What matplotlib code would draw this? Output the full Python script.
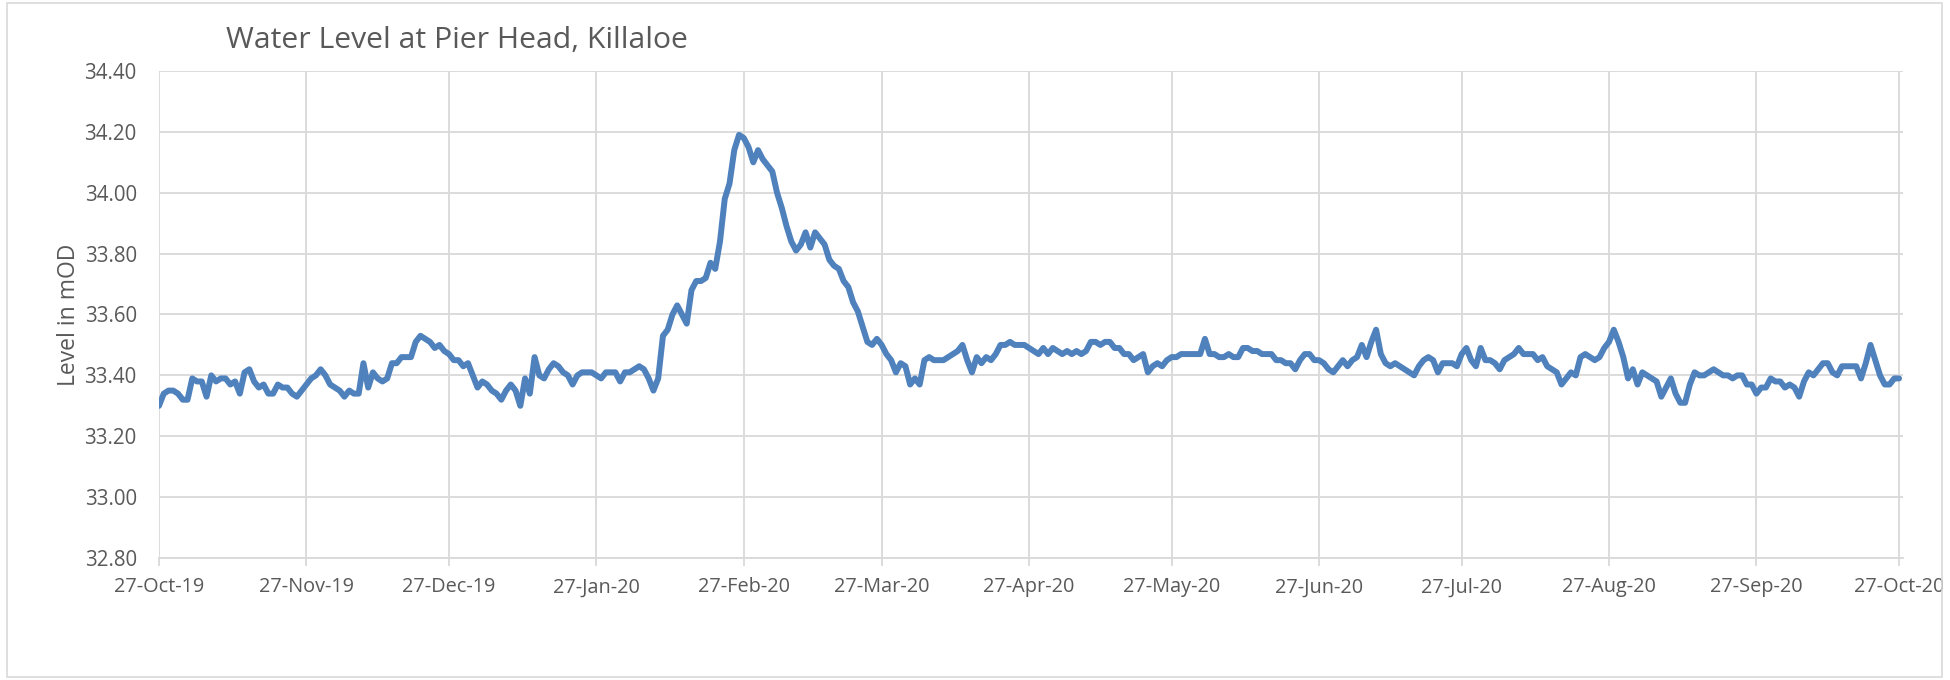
import matplotlib
matplotlib.use('Agg')
import matplotlib.pyplot as plt
import matplotlib.dates as mdates
from matplotlib.ticker import FormatStrFormatter
from matplotlib.patches import Rectangle
import pandas as pd

plt.rcParams['font.family'] = ['Open Sans', 'DejaVu Sans']

title = 'Water Level at Pier Head, Killaloe'
y_label = 'Level in mOD'
start_date = '2019-10-27'

levels = [
    33.30, 33.34, 33.35, 33.35, 33.34, 33.32, 33.32, 33.39, 33.38, 33.38,
    33.33, 33.40, 33.38, 33.39, 33.39, 33.37, 33.38, 33.34, 33.41, 33.42,
    33.38, 33.36, 33.37, 33.34, 33.34, 33.37, 33.36, 33.36, 33.34, 33.33,
    33.35, 33.37, 33.39, 33.40, 33.42, 33.40, 33.37, 33.36, 33.35, 33.33,
    33.35, 33.34, 33.34, 33.44, 33.36, 33.41, 33.39, 33.38, 33.39, 33.44,
    33.44, 33.46, 33.46, 33.46, 33.51, 33.53, 33.52, 33.51, 33.49, 33.50,
    33.48, 33.47, 33.45, 33.45, 33.43, 33.44, 33.40, 33.36, 33.38, 33.37,
    33.35, 33.34, 33.32, 33.35, 33.37, 33.35, 33.30, 33.39, 33.34, 33.46,
    33.40, 33.39, 33.42, 33.44, 33.43, 33.41, 33.40, 33.37, 33.40, 33.41,
    33.41, 33.41, 33.40, 33.39, 33.41, 33.41, 33.41, 33.38, 33.41, 33.41,
    33.42, 33.43, 33.42, 33.39, 33.35, 33.39, 33.53, 33.55, 33.60, 33.63,
    33.60, 33.57, 33.68, 33.71, 33.71, 33.72, 33.77, 33.75, 33.84, 33.98,
    34.03, 34.14, 34.19, 34.18, 34.15, 34.10, 34.14, 34.11, 34.09, 34.07,
    34.00, 33.95, 33.89, 33.84, 33.81, 33.83, 33.87, 33.82, 33.87, 33.85,
    33.83, 33.78, 33.76, 33.75, 33.71, 33.69, 33.64, 33.61, 33.56, 33.51,
    33.50, 33.52, 33.50, 33.47, 33.45, 33.41, 33.44, 33.43, 33.37, 33.39,
    33.37, 33.45, 33.46, 33.45, 33.45, 33.45, 33.46, 33.47, 33.48, 33.50,
    33.45, 33.41, 33.46, 33.44, 33.46, 33.45, 33.47, 33.50, 33.50, 33.51,
    33.50, 33.50, 33.50, 33.49, 33.48, 33.47, 33.49, 33.47, 33.49, 33.48,
    33.47, 33.48, 33.47, 33.48, 33.47, 33.48, 33.51, 33.51, 33.50, 33.51,
    33.51, 33.49, 33.49, 33.47, 33.47, 33.45, 33.46, 33.47, 33.41, 33.43,
    33.44, 33.43, 33.45, 33.46, 33.46, 33.47, 33.47, 33.47, 33.47, 33.47,
    33.52, 33.47, 33.47, 33.46, 33.46, 33.47, 33.46, 33.46, 33.49, 33.49,
    33.48, 33.48, 33.47, 33.47, 33.47, 33.45, 33.45, 33.44, 33.44, 33.42,
    33.45, 33.47, 33.47, 33.45, 33.45, 33.44, 33.42, 33.41, 33.43, 33.45,
    33.43, 33.45, 33.46, 33.50, 33.46, 33.51, 33.55, 33.47, 33.44, 33.43,
    33.44, 33.43, 33.42, 33.41, 33.40, 33.43, 33.45, 33.46, 33.45, 33.41,
    33.44, 33.44, 33.44, 33.43, 33.47, 33.49, 33.45, 33.43, 33.49, 33.45,
    33.45, 33.44, 33.42, 33.45, 33.46, 33.47, 33.49, 33.47, 33.47, 33.47,
    33.45, 33.46, 33.43, 33.42, 33.41, 33.37, 33.39, 33.41, 33.40, 33.46,
    33.47, 33.46, 33.45, 33.46, 33.49, 33.51, 33.55, 33.51, 33.46, 33.39,
    33.42, 33.37, 33.41, 33.40, 33.39, 33.38, 33.33, 33.36, 33.39, 33.34,
    33.31, 33.31, 33.37, 33.41, 33.40, 33.40, 33.41, 33.42, 33.41, 33.40,
    33.40, 33.39, 33.40, 33.40, 33.37, 33.37, 33.34, 33.36, 33.36, 33.39,
    33.38, 33.38, 33.36, 33.37, 33.36, 33.33, 33.38, 33.41, 33.40, 33.42,
    33.44, 33.44, 33.41, 33.40, 33.43, 33.43, 33.43, 33.43, 33.39, 33.44,
    33.50, 33.45, 33.40, 33.37, 33.37, 33.39, 33.39,
]

tick_dates = [
    '2019-10-27', '2019-11-27', '2019-12-27', '2020-01-27', '2020-02-27',
    '2020-03-27', '2020-04-27', '2020-05-27', '2020-06-27', '2020-07-27',
    '2020-08-27', '2020-09-27', '2020-10-27',
]
y_ticks = [32.80, 33.00, 33.20, 33.40, 33.60, 33.80, 34.00, 34.20, 34.40]

W, H = 1950, 680
dates = pd.date_range(start_date, periods=len(levels), freq='D')

fig = plt.figure(figsize=(W / 100, H / 100), dpi=100)
fig.patch.set_facecolor('white')
ax = fig.add_axes([159 / W, 1 - 558 / H, 1744 / W, 487 / H])

ax.plot(dates, levels, color='#4F81BD', lw=4.3,
        solid_joinstyle='round', solid_capstyle='round', zorder=3)

ax.set_ylim(y_ticks[0], y_ticks[-1])
ax.set_yticks(y_ticks)
ax.yaxis.set_major_formatter(FormatStrFormatter('%.2f'))

ax.set_xticks(pd.to_datetime(tick_dates))
ax.xaxis.set_major_formatter(mdates.DateFormatter('%d-%b-%y'))
ax.set_xlim(pd.Timestamp(start_date), pd.Timestamp(tick_dates[-1]) + pd.Timedelta(hours=20))

grid_c = '#d9d9d9'
ax.grid(True, color=grid_c, lw=1.3)
ax.set_axisbelow(True)
for s in ['top', 'right', 'left']:
    ax.spines[s].set_visible(False)
ax.spines['bottom'].set_color(grid_c)
ax.spines['bottom'].set_linewidth(1.3)

txt_c = '#595959'
ax.tick_params(axis='x', length=6, width=1.3, color=grid_c, pad=8,
               labelsize=14.3, labelcolor=txt_c)
ax.tick_params(axis='y', length=0, pad=16, labelsize=14.8, labelcolor=txt_c)

fig.text(69 / W, 1 - 315 / H, y_label, rotation=90, ha='center', va='center',
         fontsize=16.5, color=txt_c)
fig.text(226 / W, 1 - 41 / H, title, ha='left', va='center',
         fontsize=21.7, color=txt_c)

# clip beyond chart border and draw border
fig.add_artist(Rectangle((1943 / W, 0), 7 / W, 1, transform=fig.transFigure,
                         facecolor='white', edgecolor='none', zorder=10))
fig.add_artist(Rectangle((7 / W, 3 / H), (1942 - 7) / W, (677 - 3) / H,
                         transform=fig.transFigure, fill=False,
                         edgecolor=grid_c, lw=1.2, zorder=11))

fig.savefig('out.png', dpi=100, facecolor='white')
